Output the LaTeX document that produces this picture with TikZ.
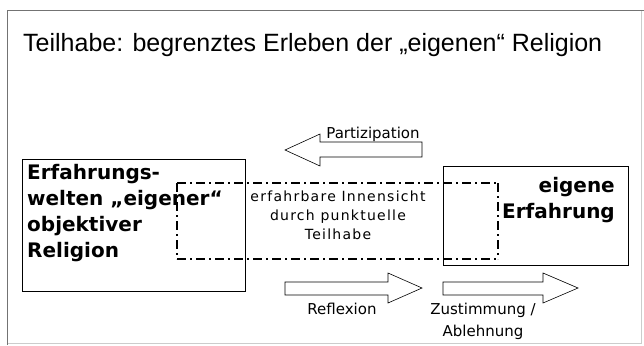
\documentclass[tikz,border=0pt]{standalone}
\usepackage{fontspec}
\setmainfont{DejaVu Sans}
\newfontfamily\titlefont{Liberation Sans}
\newfontfamily\spacedfont[LetterSpace=9]{DejaVu Sans}
\usetikzlibrary{positioning}
\tikzset{
  frame/.style={draw=black!55, line width=0.8pt},
  plainbox/.style={draw=black, line width=0.8pt, fill=white},
  blockarrow/.style={draw=black, line width=0.6pt, fill=white, line join=miter},
  zone/.style={draw=black, line width=2pt, dash pattern=on 9pt off 4pt on 2pt off 4pt},
  zoneside/.style={draw=black, line width=1.3pt, dash pattern=on 9pt off 4pt on 2pt off 4pt},
  heading/.style={font=\titlefont\fontsize{25}{30}\selectfont, inner sep=0pt},
  bigtext/.style={font=\bfseries\fontsize{20}{26}\selectfont, inner sep=0pt},
  label/.style={font=\fontsize{15}{22}\selectfont, inner sep=0pt},
  midtext/.style={font=\spacedfont\fontsize{14}{19}\selectfont, inner sep=0pt, align=center}
}
\begin{document}
\begin{tikzpicture}[x=1pt,y=-1pt]
  \useasboundingbox (0,0) rectangle (644,345);
  \fill[white] (0,0) rectangle (644,345);

  % slide frame
  \draw[draw=black!20, line width=0.6pt] (641,10) -- (641,343) -- (7,343);
  \draw[frame] (7,345) -- (7,10) -- (644,10);

  % heading
  \node[heading, anchor=base west] (title) at (23,52)
    {Teilhabe: begrenztes Erleben der „eigenen“ Religion};

  % left box
  \draw[plainbox] (22,159) rectangle (245,291);
  \coordinate (lboxnw) at (27,164);
  \node[bigtext, anchor=north west, align=left] (lefttext) at (lboxnw)
    {Erfahrungs-\\welten „eigener“\\objektiver\\Religion};

  % right box
  \draw[plainbox] (443,166) rectangle (628,265);
  \coordinate (rboxne) at (615,177);
  \node[bigtext, anchor=north east, align=right] (righttext) at (rboxne)
    {eigene\\Erfahrung};

  % centre text
  \node[midtext, anchor=north] (midlabel) at (338,191)
    {erfahrbare Innensicht\\durch punktuelle\\Teilhabe};

  % dash-dotted zone of partial insight
  \draw[zone] (177,183) -- (498,183);
  \draw[zone] (177,259) -- (498,259);
  \draw[zoneside] (177,183) -- (177,259);
  \draw[zoneside] (498,183) -- (498,259);

  % block arrow: Partizipation (pointing left)
  \draw[blockarrow] (422,142) -- (320,142) -- (320,134) -- (285,150)
    -- (320,166) -- (320,157) -- (422,157) -- cycle;
  \node[label, anchor=base] (partlabel) at (373,138) {Partizipation};

  % block arrow: Reflexion
  \draw[blockarrow] (285,282) -- (388,282) -- (388,273) -- (422,288)
    -- (388,303) -- (388,295) -- (285,295) -- cycle;
  \node[label, anchor=base] (refllabel) at (342,314) {Reflexion};

  % block arrow: Zustimmung / Ablehnung
  \draw[blockarrow] (443,282) -- (543,282) -- (543,273) -- (578,288)
    -- (543,303) -- (543,295) -- (443,295) -- cycle;
  \node[label, anchor=north, align=center] (zustlabel) at (483,303)
    {Zustimmung /\\Ablehnung};
\end{tikzpicture}
\end{document}
